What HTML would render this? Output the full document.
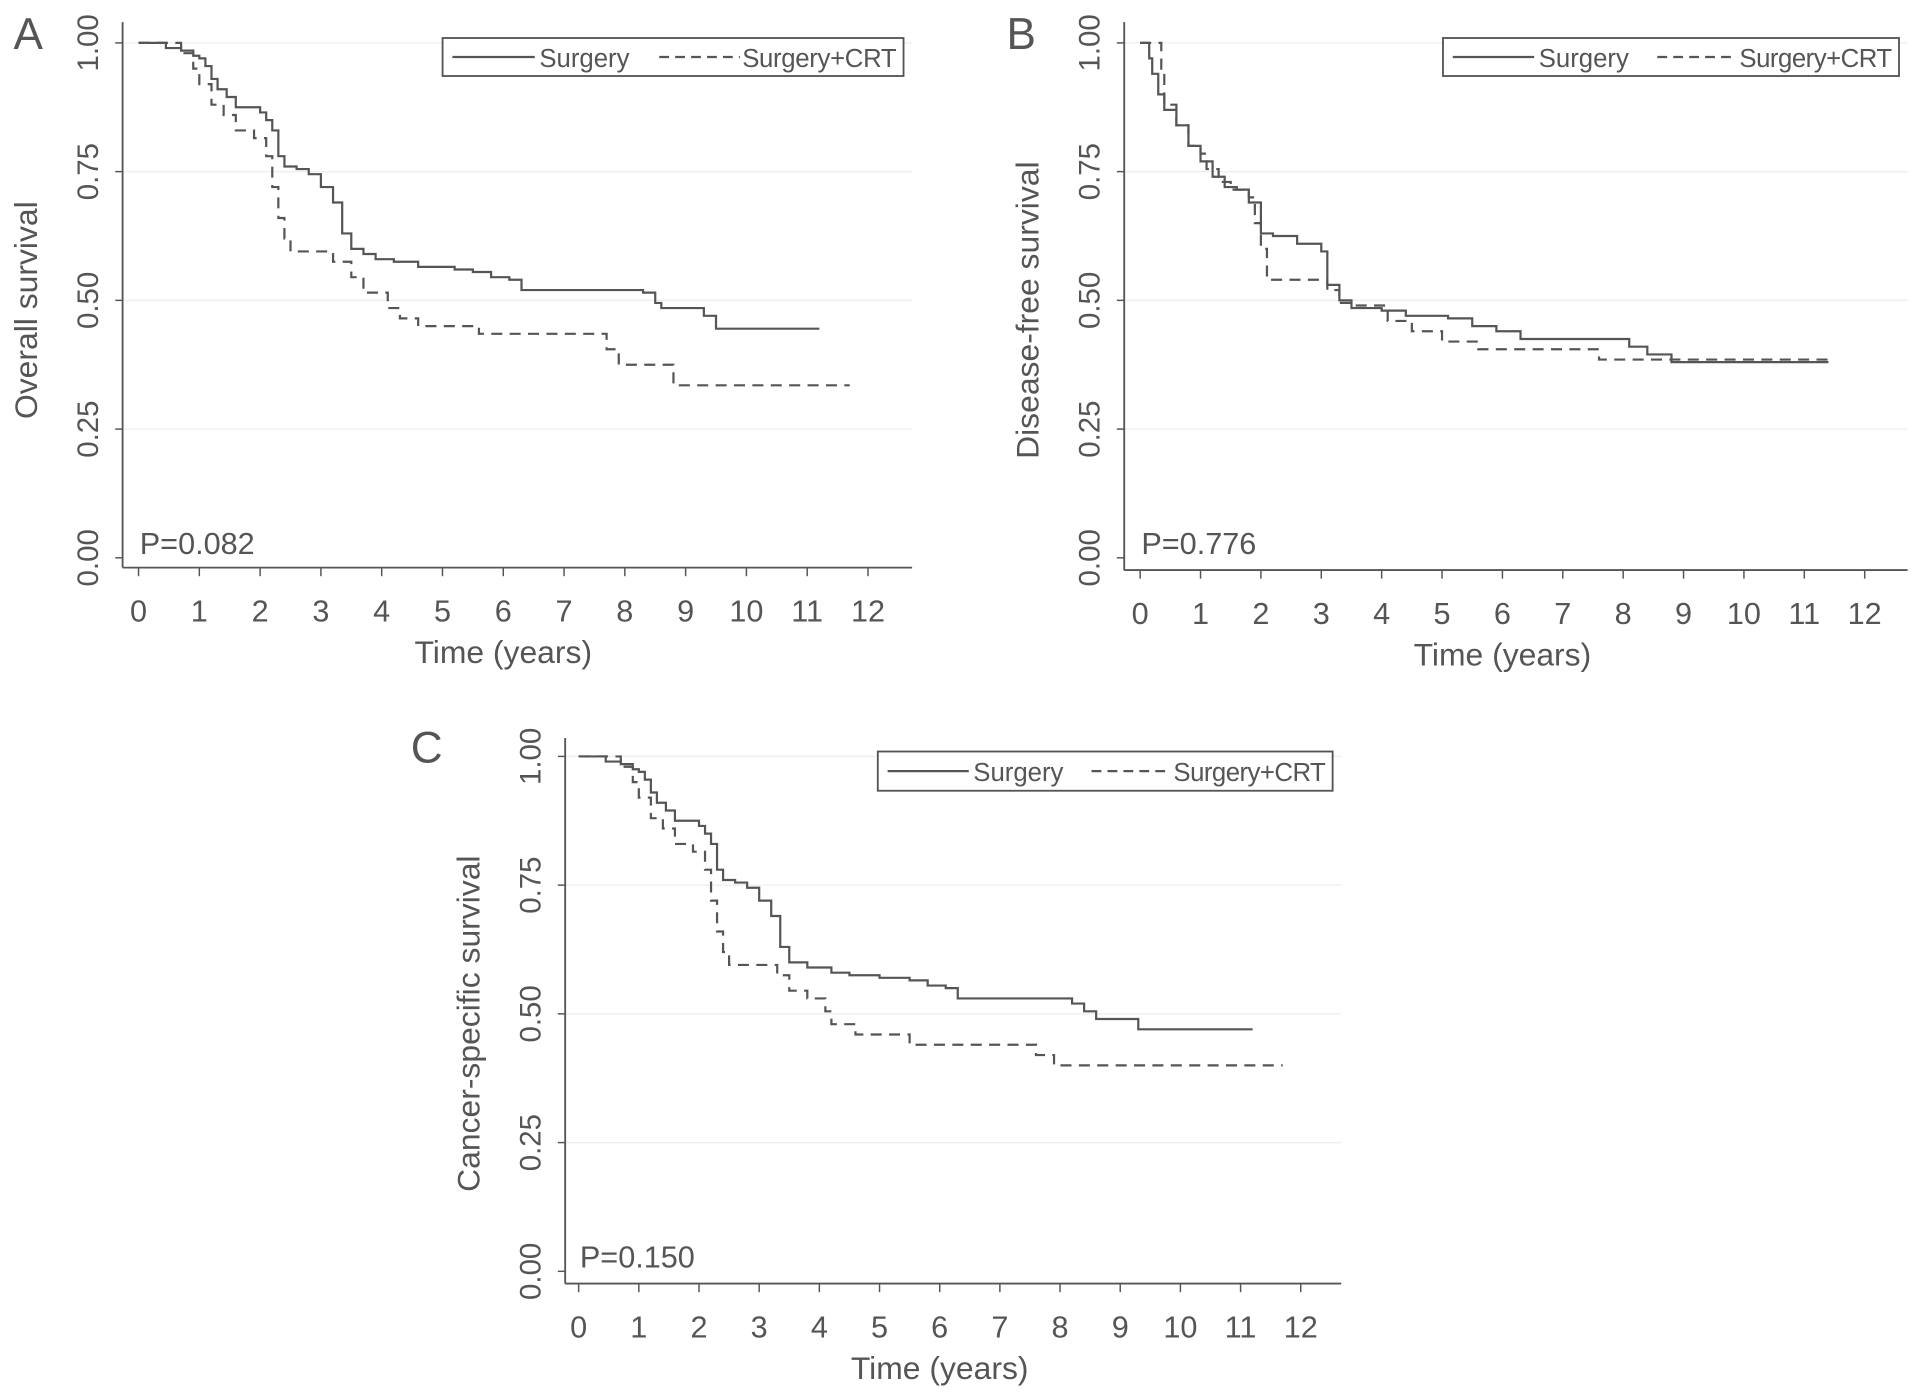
<!DOCTYPE html>
<html><head><meta charset="utf-8"><style>
html,body{margin:0;padding:0;background:#fff;}
svg{display:block;font-family:"Liberation Sans",sans-serif;}
text{fill:#555;}
</style></head><body>
<svg id="fig" width="1913" height="1396" viewBox="0 0 1560.4 1138.7"></svg>
<script>
// ---- Data ----
const xTicks = [0,1,2,3,4,5,6,7,8,9,10,11,12];
const yTicks = [0,0.25,0.5,0.75,1];
const yTickLabels = ["0.00","0.25","0.50","0.75","1.00"];
const seriesNames = ["Surgery","Surgery+CRT"];

const aSurgT = [0,0.4,0.45,0.7,0.9,1.0,1.1,1.2,1.3,1.45,1.6,2.0,2.1,2.2,2.3,2.4,2.6,2.8,3.0,3.2,3.35,3.5,3.7,3.9,4.2,4.6,5.2,5.5,5.8,6.1,6.3,8.3,8.5,8.6,9.3,9.5,11.2];
const aSurgS = [1,1,0.99,0.985,0.975,0.97,0.955,0.93,0.91,0.895,0.875,0.865,0.85,0.83,0.78,0.76,0.755,0.745,0.72,0.69,0.63,0.6,0.59,0.58,0.575,0.565,0.56,0.555,0.545,0.54,0.52,0.515,0.495,0.485,0.47,0.445,0.445];
const aCrtT = [0,0.4,0.7,0.9,1.0,1.2,1.4,1.6,1.9,2.1,2.2,2.3,2.4,2.5,3.2,3.5,3.7,4.1,4.3,4.6,5.6,7.7,7.9,8.8,11.7];
const aCrtS = [1,1,0.98,0.95,0.92,0.88,0.86,0.83,0.815,0.78,0.72,0.66,0.62,0.595,0.575,0.545,0.515,0.485,0.465,0.45,0.435,0.405,0.375,0.335,0.335];

const bSurgT = [0,0.1,0.15,0.2,0.3,0.4,0.6,0.8,1.0,1.2,1.4,1.6,1.8,2.0,2.2,2.6,3.0,3.1,3.3,3.5,4.0,4.4,5.1,5.5,5.9,6.3,8.1,8.4,8.8,11.4];
const bSurgS = [1,1,0.97,0.94,0.9,0.87,0.84,0.8,0.77,0.74,0.72,0.715,0.69,0.63,0.625,0.61,0.595,0.53,0.5,0.485,0.48,0.47,0.465,0.45,0.44,0.425,0.41,0.395,0.38,0.38];
const bCrtT = [0,0.3,0.35,0.4,0.6,0.8,1.0,1.1,1.3,1.5,1.8,1.9,2.0,2.1,3.0,3.1,3.3,3.5,4.1,4.5,5.0,5.6,7.6,11.5];
const bCrtS = [1,1,0.95,0.88,0.84,0.8,0.785,0.755,0.73,0.715,0.7,0.65,0.6,0.54,0.54,0.52,0.495,0.49,0.46,0.44,0.42,0.405,0.385,0.385];

const cSurgT = [0,0.4,0.45,0.7,0.9,1.0,1.1,1.2,1.3,1.45,1.6,2.0,2.1,2.2,2.3,2.4,2.6,2.8,3.0,3.2,3.35,3.5,3.8,4.2,4.5,5.0,5.5,5.8,6.1,6.3,8.2,8.4,8.6,9.3,11.2];
const cSurgS = [1,1,0.99,0.985,0.975,0.97,0.955,0.93,0.91,0.895,0.875,0.865,0.85,0.83,0.78,0.76,0.755,0.745,0.72,0.69,0.63,0.6,0.59,0.58,0.575,0.57,0.565,0.555,0.55,0.53,0.52,0.505,0.49,0.47,0.47];
const cCrtT = [0,0.4,0.7,0.9,1.0,1.2,1.4,1.6,1.9,2.1,2.2,2.3,2.4,2.5,3.3,3.5,3.8,4.1,4.2,4.6,5.5,7.6,7.9,11.7];
const cCrtS = [1,1,0.98,0.95,0.92,0.88,0.86,0.83,0.815,0.78,0.72,0.66,0.62,0.595,0.575,0.545,0.53,0.505,0.48,0.46,0.44,0.42,0.4,0.4];

// ---- Drawing ----
const NS = "http://www.w3.org/2000/svg";
const svg = document.getElementById("fig");
function mk(tag, attrs, parent){
  const e = document.createElementNS(NS, tag);
  for (const k in attrs) e.setAttribute(k, attrs[k]);
  (parent||svg).appendChild(e);
  return e;
}
const GRAY = "#555";

function panel(cfg){
  const g = mk("g", {});
  
  
  const sx = t => cfg.x0 + (cfg.x12 - cfg.x0) * t / 12;
  const sy = v => cfg.y0 + (cfg.y1 - cfg.y0) * v;
  yTicks.forEach((v,i) => {
    if (v > 0) {
      const gl = mk("line", {x1:cfg.axX, x2:cfg.axRight, y1:sy(v), y2:sy(v), stroke:"#eee", "stroke-width":1}, g);
      
      
    }
    const tk = mk("line", {x1:cfg.axX-6, x2:cfg.axX, y1:sy(v), y2:sy(v), stroke:GRAY, "stroke-width":1.2}, g);
    
    
    const lx = cfg.axX - 28, ly = sy(v);
    const tl = mk("text", {x:lx, y:ly, "font-size":24, "text-anchor":"middle", "dominant-baseline":"central", transform:`rotate(-90 ${lx} ${ly})`}, g);
    tl.textContent = yTickLabels[i];
    
    
  });
  const ya = mk("line", {x1:cfg.axX, x2:cfg.axX, y1:cfg.axTop, y2:cfg.axY, stroke:GRAY, "stroke-width":1.5}, g);
  
  
  const xa = mk("line", {x1:cfg.axX, x2:cfg.axRight, y1:cfg.axY, y2:cfg.axY, stroke:GRAY, "stroke-width":1.5}, g);
  
  
  xTicks.forEach(t => {
    const tk = mk("line", {x1:sx(t), x2:sx(t), y1:cfg.axY, y2:cfg.axY+7, stroke:GRAY, "stroke-width":1.2}, g);
    
    
    const tl = mk("text", {x:sx(t), y:cfg.axY+44, "font-size":25, "text-anchor":"middle"}, g);
    tl.textContent = String(t);
    
    
  });
  const xt = mk("text", {x:(sx(0)+sx(12))/2, y:cfg.axY+78, "font-size":26, "text-anchor":"middle"}, g);
  xt.textContent = "Time (years)";
  
  
  const tx = cfg.axX - 70, ty = (sy(0)+sy(1))/2 + 8;
  const yt = mk("text", {x:tx, y:ty, "font-size":26, "text-anchor":"middle", transform:`rotate(-90 ${tx} ${ty})`}, g);
  yt.textContent = cfg.ytitle;
  
  
  const lt = mk("text", {x:cfg.lx, y:cfg.ly, "font-size":36, fill:"#222"}, g);
  lt.textContent = cfg.letter;
  
  
  const pt = mk("text", {x:sx(0)+1, y:sy(0)-3, "font-size":25}, g);
  pt.textContent = cfg.p;
  
  
  function curve(T, S, dashed, name){
    let d = `M${sx(T[0])},${sy(S[0])}`;
    for (let i=1;i<T.length;i++){ d += ` H${sx(T[i])} V${sy(S[i])}`; }
    const p = mk("path", {d, fill:"none", stroke:GRAY, "stroke-width":1.8, "stroke-dasharray": dashed ? "9,6" : "none"}, g);
    
    
  }
  curve(cfg.sT, cfg.sS, false, 'surgery-curve');
  curve(cfg.cT, cfg.cS, true, 'surgery-crt-curve');
  const L = cfg.leg;
  const lg = mk("g", {}, g);
  
  
  mk("rect", {x:L[0], y:L[1], width:L[2]-L[0], height:L[3]-L[1], fill:"#fff", stroke:GRAY, "stroke-width":1.5}, lg);
  const my = (L[1]+L[3])/2;
  const w = L[2]-L[0];
  mk("line", {x1:L[0]+8, x2:L[0]+0.2*w, y1:my, y2:my, stroke:GRAY, "stroke-width":1.8}, lg);
  const e1 = mk("text", {x:L[0]+0.21*w, y:my+8, "font-size":21}, lg);
  e1.textContent = seriesNames[0];
  
  
  mk("line", {x1:L[0]+0.47*w, x2:L[0]+0.645*w, y1:my, y2:my, stroke:GRAY, "stroke-width":1.8, "stroke-dasharray":"8,5"}, lg);
  const e2 = mk("text", {x:L[0]+0.65*w, y:my+8, "font-size":21, textLength:0.335*w}, lg);
  e2.textContent = seriesNames[1];
  
  
}

panel({letter:"A", lx:11, ly:40, x0:113, x12:708, y1:35, y0:455, axX:100, axTop:18, axY:463, axRight:744,
  ytitle:"Overall survival", p:"P=0.082", leg:[361,31,737,62],
  sT:aSurgT, sS:aSurgS, cT:aCrtT, cS:aCrtS});
panel({letter:"B", lx:821, ly:40, x0:930, x12:1521, y1:35, y0:455, axX:917, axTop:18, axY:465, axRight:1556,
  ytitle:"Disease-free survival", p:"P=0.776", leg:[1177,31,1549,62],
  sT:bSurgT, sS:bSurgS, cT:bCrtT, cS:bCrtS});
panel({letter:"C", lx:335, ly:622, x0:472, x12:1061, y1:617, y0:1037, axX:461, axTop:602, axY:1047, axRight:1094,
  ytitle:"Cancer-specific survival", p:"P=0.150", leg:[716,613,1087,645],
  sT:cSurgT, sS:cSurgS, cT:cCrtT, cS:cCrtS});
</script>
</body></html>
